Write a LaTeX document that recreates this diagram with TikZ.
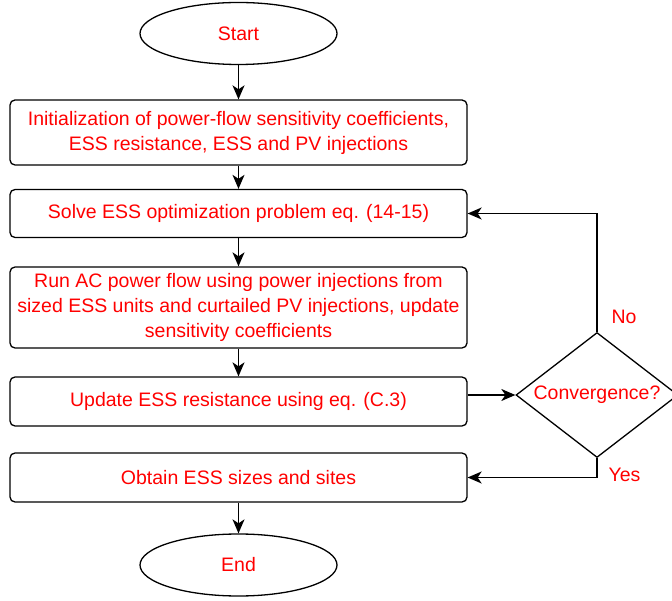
\documentclass[tikz,border=0pt]{standalone}
\usepackage{fontspec}
\setmainfont{Liberation Sans}
\usetikzlibrary{shapes.geometric,arrows.meta,calc}

\begin{document}
\begin{tikzpicture}[x=1pt,y=-1pt,
  line width=1.3pt,
  every node/.style={font=\fontsize{19.5}{25}\selectfont, text=red},
  terminal/.style={ellipse, draw=black, minimum width=197pt, minimum height=62pt, inner sep=0pt},
  stepbox/.style={draw=black, rounded corners=5pt, minimum width=457pt, align=center, inner sep=0pt},
  decision/.style={diamond, draw=black, minimum width=162pt, minimum height=125pt, aspect=1.296, inner sep=0pt},
  flow/.style={draw=black, -{Stealth[length=14pt,width=12pt,inset=4pt]}},
  answer/.style={anchor=west, inner sep=0pt}
]
\useasboundingbox (0,0) rectangle (672,601);

\node[terminal] (start) at (238.5,33.5) {Start};
\node[stepbox, minimum height=65pt] (b1) at (238.5,132.5)
  {Initialization of power-flow sensitivity coefficients,\\ESS resistance, ESS and PV injections};
\node[stepbox, minimum height=48pt] (b2) at (238.5,213.5)
  {Solve ESS optimization problem eq. (14-15)};
\node[stepbox, minimum height=81pt] (b3) at (238.5,307.5)
  {Run AC power flow using power injections from\\sized ESS units and curtailed PV injections, update\\sensitivity coefficients};
\node[stepbox, minimum height=49pt] (b4) at (238.5,401.5)
  {Update ESS resistance using eq. (C.3)};
\node[stepbox, minimum height=49pt] (b5) at (238.5,477.5)
  {Obtain ESS sizes and sites};
\node[terminal] (end) at (238.5,565) {End};

\node[decision] (conv) at (597,395) {Convergence?};

\node[answer] (no) at (611,317) {No};
\node[answer] (yes) at (608,475) {Yes};

\draw[flow] (start) -- (b1);
\draw[flow] (b1) -- (b2);
\draw[flow] (b2) -- (b3);
\draw[flow] (b3) -- (b4);
\draw[flow] (b4.east |- conv.west) -- (conv.west);
\draw[flow] (conv.north) |- (b2.east);
\draw[flow] (conv.south) |- (b5.east);
\draw[flow] (b5) -- (end);
\end{tikzpicture}
\end{document}
